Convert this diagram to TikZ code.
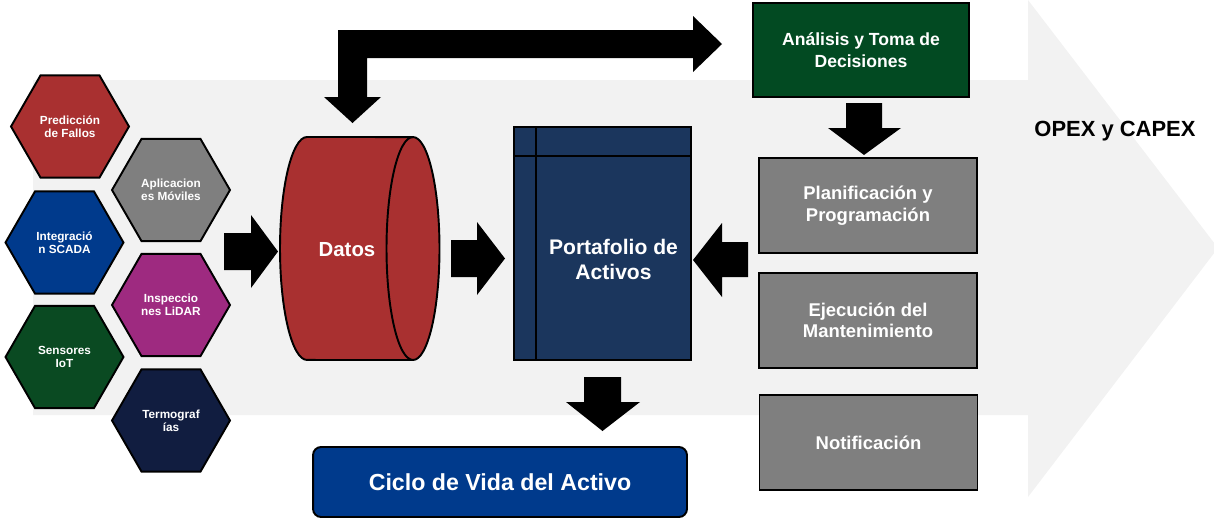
\documentclass[tikz,border=0pt]{standalone}
\usepackage{fontspec}
\setmainfont{Liberation Sans}
\usetikzlibrary{shapes.geometric}
\definecolor{bgarrow}{HTML}{F2F2F2}
\definecolor{cred}{HTML}{A93030}
\definecolor{cgray}{HTML}{7F7F7F}
\definecolor{cblue}{HTML}{003A8C}
\definecolor{cmag}{HTML}{9E2A80}
\definecolor{cgreen}{HTML}{0A4A22}
\definecolor{cnavy}{HTML}{111D40}
\definecolor{cport}{HTML}{1B365D}
\definecolor{canal}{HTML}{024A22}
\begin{document}
\begin{tikzpicture}[x=0.02cm,y=-0.02cm,
  hexa/.style={regular polygon, regular polygon sides=6, minimum size=2.36cm,
    draw=black, line width=1.1pt, text=white, align=center, inner sep=0pt,
    font=\fontsize{6.7}{7.6}\selectfont\bfseries},
  graybox/.style={rectangle, draw=black, line width=1.1pt, fill=cgray, text=white,
    align=center, inner sep=0pt, minimum width=4.36cm, minimum height=1.9cm,
    font=\fontsize{10.5}{12.3}\selectfont\bfseries},
  blockarrow/.style={fill=black}]
\useasboundingbox (0,0) rectangle (1214,518);

% background arrow
\fill[bgarrow] (33,80) -- (1028,80) -- (1028,0) -- (1218,248) -- (1028,497)
  -- (1028,415) -- (33,415) -- cycle;

% hexagons
\node[hexa, fill=cred]   (pred)  at (70,126.5)  {Predicción\\de Fallos};
\node[hexa, fill=cgray]  (apps)  at (171,190)   {Aplicacion\\es Móviles};
\node[hexa, fill=cblue]  (scada) at (64.5,242.5) {Integració\\n SCADA};
\node[hexa, fill=cmag]   (lidar) at (171,305)   {Inspeccio\\nes LiDAR};
\node[hexa, fill=cgreen] (iot)   at (64.5,357)  {Sensores\\IoT};
\node[hexa, fill=cnavy]  (termo) at (171,420.5) {Termograf\\ías};

% cylinder Datos
\filldraw[fill=cred, draw=black, line width=1.1pt]
  (307,137) arc[start angle=90, end angle=270, x radius=0.54cm, y radius=2.23cm]
  -- (413,360) arc[start angle=-90, end angle=90, x radius=0.53cm, y radius=2.23cm]
  -- cycle;
\draw[line width=1.1pt] (413,137) arc[start angle=90, end angle=270, x radius=0.53cm, y radius=2.23cm];
\node[text=white, font=\fontsize{11.6}{14}\selectfont\bfseries] (datos) at (347,250) {Datos};

% portfolio
\node[rectangle, draw=black, line width=1.1pt, fill=cport, inner sep=0pt,
  minimum width=3.54cm, minimum height=4.66cm] (port) at (602.5,243.5) {};
\draw[line width=1.1pt] (536,127) -- (536,360);
\draw[line width=1.1pt] (514,156) -- (691,156);
\node[text=white, align=center, font=\fontsize{12}{14.2}\selectfont\bfseries] (portt) at (613.5,259.5) {Portafolio de\\Activos};

% ciclo de vida
\node[rectangle, draw=black, line width=1.1pt, fill=cblue, rounded corners=0.16cm,
  inner sep=0pt, minimum width=7.48cm, minimum height=1.4cm, text=white,
  font=\fontsize{13.2}{15}\selectfont\bfseries] (ciclo) at (500,482) {Ciclo de Vida del Activo};

% right column
\node[graybox, fill=canal, minimum width=4.32cm, minimum height=1.88cm,
  font=\fontsize{10}{12.5}\selectfont\bfseries] (anal) at (861,50) {Análisis y Toma de\\Decisiones};
\node[graybox] (plan) at (868,205.5) {Planificación y\\Programación};
\node[graybox] (ejec) at (868,320.5) {Ejecución del\\Mantenimiento};
\node[graybox] (noti) at (868.5,442.5) {Notificación};

\node[font=\fontsize{12.5}{15}\selectfont\bfseries] (opex) at (1115,131.5) {OPEX y CAPEX};

% block arrows
\fill[blockarrow] (224,233) -- (251,233) -- (251,215) -- (278,251.5) -- (251,288) -- (251,270) -- (224,270) -- cycle;
\fill[blockarrow] (451,240) -- (477,240) -- (477,222) -- (505,258.5) -- (477,295) -- (477,277) -- (451,277) -- cycle;
\fill[blockarrow] (748,242) -- (722,242) -- (722,223) -- (693,260) -- (722,297) -- (722,277) -- (748,277) -- cycle;
\fill[blockarrow] (584,377) -- (621,377) -- (621,402) -- (640,402) -- (602.5,431) -- (566,402) -- (584,402) -- cycle;
\fill[blockarrow] (846,103) -- (882,103) -- (882,128) -- (901,128) -- (864,155) -- (828,128) -- (846,128) -- cycle;
\fill[blockarrow] (338,30) -- (693,30) -- (693,16) -- (722,44) -- (693,72) -- (693,58) -- (367,58)
  -- (367,97) -- (381,97) -- (352.5,123) -- (324,97) -- (338,97) -- cycle;
\end{tikzpicture}
\end{document}
